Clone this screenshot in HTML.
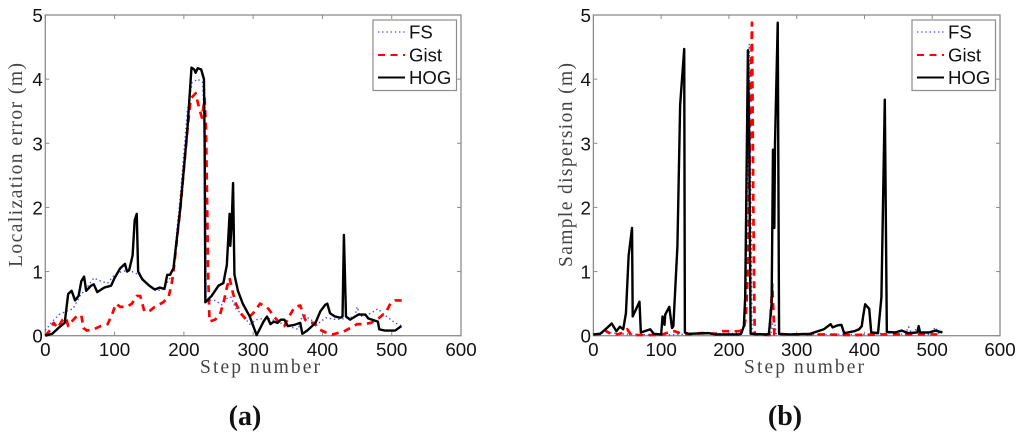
<!DOCTYPE html>
<html>
<head>
<meta charset="utf-8">
<title>Localization error and sample dispersion</title>
<style>
html,body{margin:0;padding:0;background:#fff;width:1024px;height:440px;overflow:hidden}
svg{display:block}
.tick{font-family:"Liberation Sans",sans-serif;font-size:18.8px;fill:#111}
.title{font-family:"Liberation Serif",serif;font-size:19.5px;fill:#444}
.cap{font-family:"Liberation Serif",serif;font-size:28px;font-weight:bold;fill:#111}
.leg{font-family:"Liberation Sans",sans-serif;font-size:18.6px;fill:#111}
</style>
</head>
<body>
<svg id="figure" width="1024" height="440" viewBox="0 0 1024 440" xmlns="http://www.w3.org/2000/svg"></svg>
<script>
const xTicks = [0, 100, 200, 300, 400, 500, 600];
const yTicks = [0, 1, 2, 3, 4, 5];
const seriesNames = ['FS', 'Gist', 'HOG'];

const fsStepsA = [0,10,20,30,40,50,60,70,80,90,100,110,120,130,140,150,160,170,180,185,195,205,212,220,227,231,232,245,255,262,268,275,285,295,305,320,335,350,365,372,382,395,405,420,435,447,450,455,470,480,490,505,515];
const fsValuesA = [0.08,0.22,0.33,0.38,0.42,0.62,0.75,0.9,0.85,0.82,0.95,1.0,1.02,0.98,0.9,0.78,0.7,0.72,0.9,1.1,2.2,3.5,3.95,4.0,3.95,3.0,0.55,0.55,0.48,0.58,0.6,0.42,0.32,0.18,0.25,0.28,0.22,0.15,0.1,0.35,0.25,0.2,0.28,0.25,0.27,0.3,0.45,0.3,0.35,0.42,0.32,0.2,0.15];
const gistStepsA = [0,8,12,18,25,30,33,38,45,52,55,60,70,80,90,97,102,108,118,125,132,137,143,150,158,170,178,183,185,195,205,210,217,222,226,230,232,235,237,245,252,258,262,266,270,275,282,290,300,310,322,330,338,345,352,360,368,375,380,388,395,405,415,425,430,440,450,460,470,481,492,498,505,515];
const gistValuesA = [0,0.1,0.2,0.12,0.25,0.28,0.15,0.22,0.3,0.32,0.12,0.08,0.1,0.15,0.18,0.35,0.5,0.45,0.45,0.5,0.62,0.62,0.38,0.38,0.45,0.52,0.6,0.85,1.0,2.0,3.2,3.7,3.78,3.55,3.4,3.7,3.2,1.0,0.22,0.25,0.32,0.55,0.75,0.9,0.7,0.5,0.35,0.25,0.35,0.5,0.42,0.3,0.2,0.15,0.3,0.45,0.47,0.25,0.2,0.2,0.1,0.05,0.02,0.05,0.06,0.12,0.18,0.18,0.2,0.27,0.37,0.5,0.55,0.55];
const hogStepsA = [0,10,20,28,33,38,43,48,52,56,59,66,70,75,85,95,100,108,115,118,121,126,129,132,134,140,150,158,165,172,176,180,185,195,205,211,215,217,220,225,229,230,231,240,250,257,262,266,267,269,271,273,278,285,295,305,307,315,320,325,330,335,340,345,350,360,368,371,378,390,397,404,407,411,418,426,429,431,434,440,452,462,466,480,482,490,505,514];
const hogValuesA = [0,0.03,0.13,0.2,0.65,0.7,0.55,0.62,0.85,0.92,0.7,0.78,0.8,0.68,0.75,0.78,0.9,1.05,1.12,1.0,1.02,1.25,1.8,1.9,1.0,0.88,0.78,0.72,0.75,0.73,0.95,0.95,1.05,2.0,3.2,4.18,4.15,4.1,4.17,4.15,4.0,3.0,0.52,0.62,0.78,0.82,1.1,1.9,1.4,1.75,2.38,0.95,0.7,0.5,0.3,0.01,0.05,0.22,0.3,0.18,0.22,0.2,0.25,0.25,0.15,0.17,0.2,0.03,0.08,0.2,0.38,0.48,0.5,0.35,0.3,0.28,0.3,1.57,0.3,0.25,0.33,0.33,0.27,0.22,0.1,0.08,0.08,0.15];

const fsStepsB = [0,20,40,60,100,150,200,220,225,228,230,232,234,240,262,266,270,300,350,400,440,460,465,470,478,485,495,505,510,515];
const fsValuesB = [0.02,0.05,0.03,0.02,0.01,0.03,0.03,0.05,0.5,3.0,4.55,2.5,0.05,0.02,0.02,0.3,0.02,0.02,0.02,0.02,0.04,0.02,0.14,0.03,0.12,0.02,0.02,0.13,0.03,0.08];
const gistStepsB = [0,15,18,25,35,45,50,55,65,100,110,120,130,140,160,180,190,215,222,225,228,231,234,236,238,260,264,267,300,340,380,430,515];
const gistValuesB = [0.02,0.03,0.08,0.03,0.02,0.05,0.1,0.02,0.01,0.01,0.05,0.07,0.03,0.02,0.04,0.03,0.07,0.07,0.1,0.3,1.0,3.0,4.88,2.0,0.02,0.01,0.8,0.02,0.02,0.02,0.01,0.02,0.02];
const hogStepsB = [0,10,20,27,34,39,44,48,52,57,58,68,70,84,89,100,102,105,106,112,116,118,124,128,134,135,140,170,180,215,218,222,224,226,228,230,232,255,259,263,265,267,268,272,274,290,320,340,350,353,360,366,370,385,392,396,398,401,407,410,420,425,430,433,445,455,465,478,480,482,495,505,515];
const hogValuesB = [0.02,0.03,0.12,0.19,0.07,0.14,0.1,0.35,1.25,1.68,0.3,0.53,0.05,0.1,0.03,0.02,0.3,0.17,0.33,0.45,0.12,0.15,1.4,3.6,4.47,0.05,0.03,0.04,0.02,0.02,0.03,0.15,0.6,2.5,4.45,3.0,0.03,0.02,0.03,0.5,2.9,1.68,3.0,4.88,0.03,0.02,0.03,0.1,0.18,0.13,0.16,0.17,0.04,0.07,0.1,0.15,0.3,0.49,0.42,0.05,0.04,0.6,3.68,0.06,0.05,0.08,0.04,0.05,0.15,0.05,0.05,0.08,0.05];

const svg = document.getElementById('figure');
const NS = 'http://www.w3.org/2000/svg';

function add(parent, tag, name, attrs, text) {
  const el = document.createElementNS(NS, tag);
  
  
  for (const k in attrs) el.setAttribute(k, attrs[k]);
  if (text !== undefined) el.textContent = text;
  parent.appendChild(el);
  return el;
}

function drawPanel(p) {
  const g = add(svg, 'g', p.id + '-chart', {});
  const left = p.left, right = p.right, top = 15, bottom = 335.7;
  const sx = v => left + (v - xTicks[0]) / (xTicks[xTicks.length - 1] - xTicks[0]) * (right - left);
  const sy = v => bottom - (v - yTicks[0]) / (yTicks[yTicks.length - 1] - yTicks[0]) * (bottom - top);
  const axis = '#8c8c8c';

  add(g, 'rect', p.id + '-plot-frame', {x: left, y: top, width: right - left, height: bottom - top, fill: '#fff', stroke: axis, 'stroke-width': 1.3});

  xTicks.forEach(t => {
    add(g, 'line', p.id + '-x-tick-bottom', {x1: sx(t), x2: sx(t), y1: bottom, y2: bottom - 4, stroke: axis, 'stroke-width': 1});
    add(g, 'line', p.id + '-x-tick-top', {x1: sx(t), x2: sx(t), y1: top, y2: top + 4, stroke: axis, 'stroke-width': 1});
    add(g, 'text', p.id + '-x-tick-label', {x: sx(t), y: 356, 'text-anchor': 'middle', class: 'tick'}, t);
  });
  yTicks.forEach(t => {
    add(g, 'line', p.id + '-y-tick-left', {x1: left, x2: left + 4, y1: sy(t), y2: sy(t), stroke: axis, 'stroke-width': 1});
    add(g, 'line', p.id + '-y-tick-right', {x1: right, x2: right - 4, y1: sy(t), y2: sy(t), stroke: axis, 'stroke-width': 1});
    add(g, 'text', p.id + '-y-tick-label', {x: left - 2.5, y: sy(t) + 7, 'text-anchor': 'end', class: 'tick'}, t);
  });

  const styles = [
    {stroke: '#4a4aff', 'stroke-width': 1.4, 'stroke-dasharray': '1.4 2.8'},
    {stroke: '#ff0000', 'stroke-width': 2.7, 'stroke-dasharray': '7 5.5'},
    {stroke: '#000', 'stroke-width': 2.4}
  ];
  const keys = ['fs', 'gist', 'hog'];
  p.series.forEach((s, i) => {
    const d = s.steps.map((st, j) => sx(st).toFixed(2) + ',' + sy(s.values[j]).toFixed(2)).join(' ');
    add(g, 'polyline', p.id + '-series-' + keys[i], Object.assign({points: d, fill: 'none', 'stroke-linejoin': 'round'}, styles[i]));
  });

  add(g, 'text', p.id + '-x-axis-title', {x: p.xTitleX, y: 373, 'text-anchor': 'start', class: 'title', textLength: 120, lengthAdjust: 'spacing'}, 'Step number');
  add(g, 'text', p.id + '-y-axis-title', {transform: 'translate(' + p.yTitleX + ',267) rotate(-90)', class: 'title', textLength: 204, lengthAdjust: 'spacing'}, p.yTitle);

  const lx = right - 88;
  const legend = add(g, 'g', p.id + '-legend', {});
  add(legend, 'rect', p.id + '-legend-box', {x: lx, y: 20, width: 83.5, height: 70.5, fill: '#fff', stroke: axis, 'stroke-width': 1.2});
  const rows = [32, 55, 77.5];
  seriesNames.forEach((n, i) => {
    const row = add(legend, 'g', p.id + '-legend-entry-' + keys[i], {});
    add(row, 'line', p.id + '-legend-line-' + keys[i], Object.assign({x1: lx + 5, x2: lx + 32, y1: rows[i], y2: rows[i]}, styles[i], {'stroke-width': i === 0 ? 1.3 : 1.9}));
    add(row, 'text', p.id + '-legend-label-' + keys[i], {x: lx + 36, y: rows[i] + 6.5, class: 'leg'}, n);
  });

  add(g, 'text', p.id + '-caption', {x: p.capX, y: 425, 'text-anchor': 'middle', class: 'cap'}, p.caption);
}

drawPanel({
  id: 'panel-a', left: 45.3, right: 461, xTitleX: 200, yTitleX: 22,
  yTitle: 'Localization error (m)', capX: 245, caption: '(a)',
  series: [
    {steps: fsStepsA, values: fsValuesA},
    {steps: gistStepsA, values: gistValuesA},
    {steps: hogStepsA, values: hogValuesA}
  ]
});
drawPanel({
  id: 'panel-b', left: 593.4, right: 1000, xTitleX: 744, yTitleX: 572,
  yTitle: 'Sample dispersion (m)', capX: 785, caption: '(b)',
  series: [
    {steps: fsStepsB, values: fsValuesB},
    {steps: gistStepsB, values: gistValuesB},
    {steps: hogStepsB, values: hogValuesB}
  ]
});
</script>
</body>
</html>
